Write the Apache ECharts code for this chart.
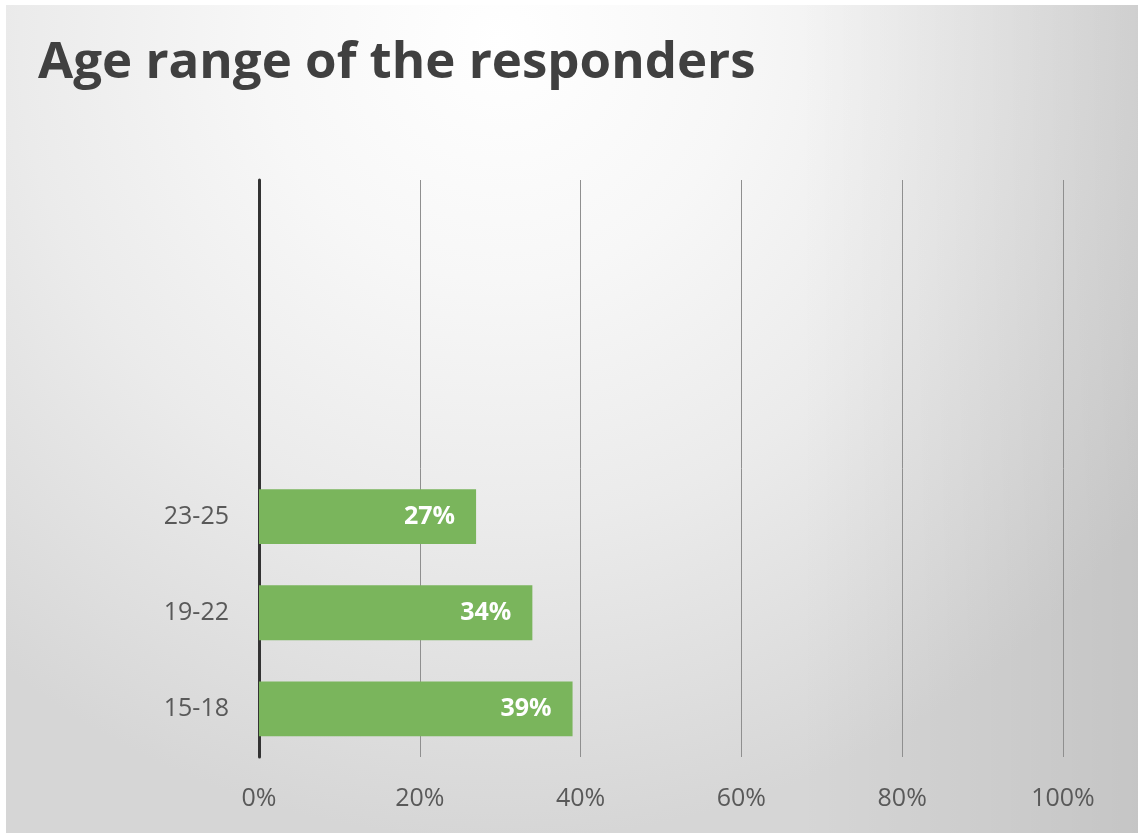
<!DOCTYPE html>
<html>
<head>
<meta charset="utf-8">
<script src="https://cdn.jsdelivr.net/npm/echarts@6/dist/echarts.min.js"></script>
<style>
  html, body { margin: 0; padding: 0; background: #ffffff; }
  #chart { width: 1138px; height: 833px; }
</style>
</head>
<body>
<div id="chart"></div>
<script>
// Age groups (bottom to top) and share of responders in each
const ageGroups = ['15-18', '19-22', '23-25'];
const shares = [39, 34, 27];
const xTicks = [0, 20, 40, 60, 80, 100];

const chart = echarts.init(document.getElementById('chart'));

chart.setOption({
  animation: false,
  graphic: [
    {
      // soft radial backdrop, brightest near the top
      type: 'rect',
      z: -10,
      shape: { x: 6, y: 5, width: 1132, height: 828 },
      style: {
        fill: {
          type: 'radial',
          x: 500, y: 40, r: 800,
          global: true,
          colorStops: [
            { offset: 0, color: '#ffffff' },
            { offset: 0.3, color: '#f7f7f7' },
            { offset: 0.6, color: '#ebebeb' },
            { offset: 0.85, color: '#dedede' },
            { offset: 1, color: '#d6d6d6' }
          ]
        }
      }
    },
    {
      // darker shading towards the right edge
      type: 'rect',
      z: -9,
      shape: { x: 6, y: 5, width: 1132, height: 828 },
      style: {
        fill: {
          type: 'linear',
          x: 0, y: 0, x2: 1, y2: 0,
          colorStops: [
            { offset: 0, color: 'rgba(0,0,0,0)' },
            { offset: 0.7, color: 'rgba(0,0,0,0)' },
            { offset: 1, color: 'rgba(0,0,0,0.08)' }
          ]
        }
      }
    }
  ],
  title: {
    text: 'Age range of the responders',
    left: 33,
    top: 33,
    textStyle: {
      fontFamily: 'Open Sans',
      fontWeight: 'bold',
      fontSize: 51,
      color: '#404040'
    }
  },
  grid: { left: 259, right: 75, top: 180, bottom: 76, containLabel: false },
  xAxis: {
    type: 'value',
    min: xTicks[0],
    max: xTicks[xTicks.length - 1],
    interval: xTicks[1] - xTicks[0],
    axisLine: { show: false },
    axisTick: { show: false },
    splitLine: { show: true, lineStyle: { color: '#8f8f8f', width: 1 } },
    axisLabel: {
      formatter: '{value}%',
      margin: 29,
      fontFamily: 'Open Sans',
      fontSize: 25,
      color: '#595959'
    }
  },
  yAxis: {
    type: 'category',
    data: ageGroups,
    max: 5,
    axisLine: { show: true, lineStyle: { color: '#333333', width: 3 } },
    axisTick: { show: false },
    axisLabel: {
      margin: 30,
      fontFamily: 'Open Sans',
      fontSize: 25,
      color: '#595959'
    }
  },
  series: [
    {
      type: 'bar',
      data: shares,
      barWidth: '57%',
      itemStyle: { color: '#7ab55c' },
      label: {
        show: true,
        position: 'insideRight',
        distance: 21,
        formatter: '{c}%',
        fontFamily: 'Open Sans',
        fontWeight: 'bold',
        fontSize: 25,
        color: '#ffffff'
      }
    }
  ]
});
</script>
</body>
</html>
